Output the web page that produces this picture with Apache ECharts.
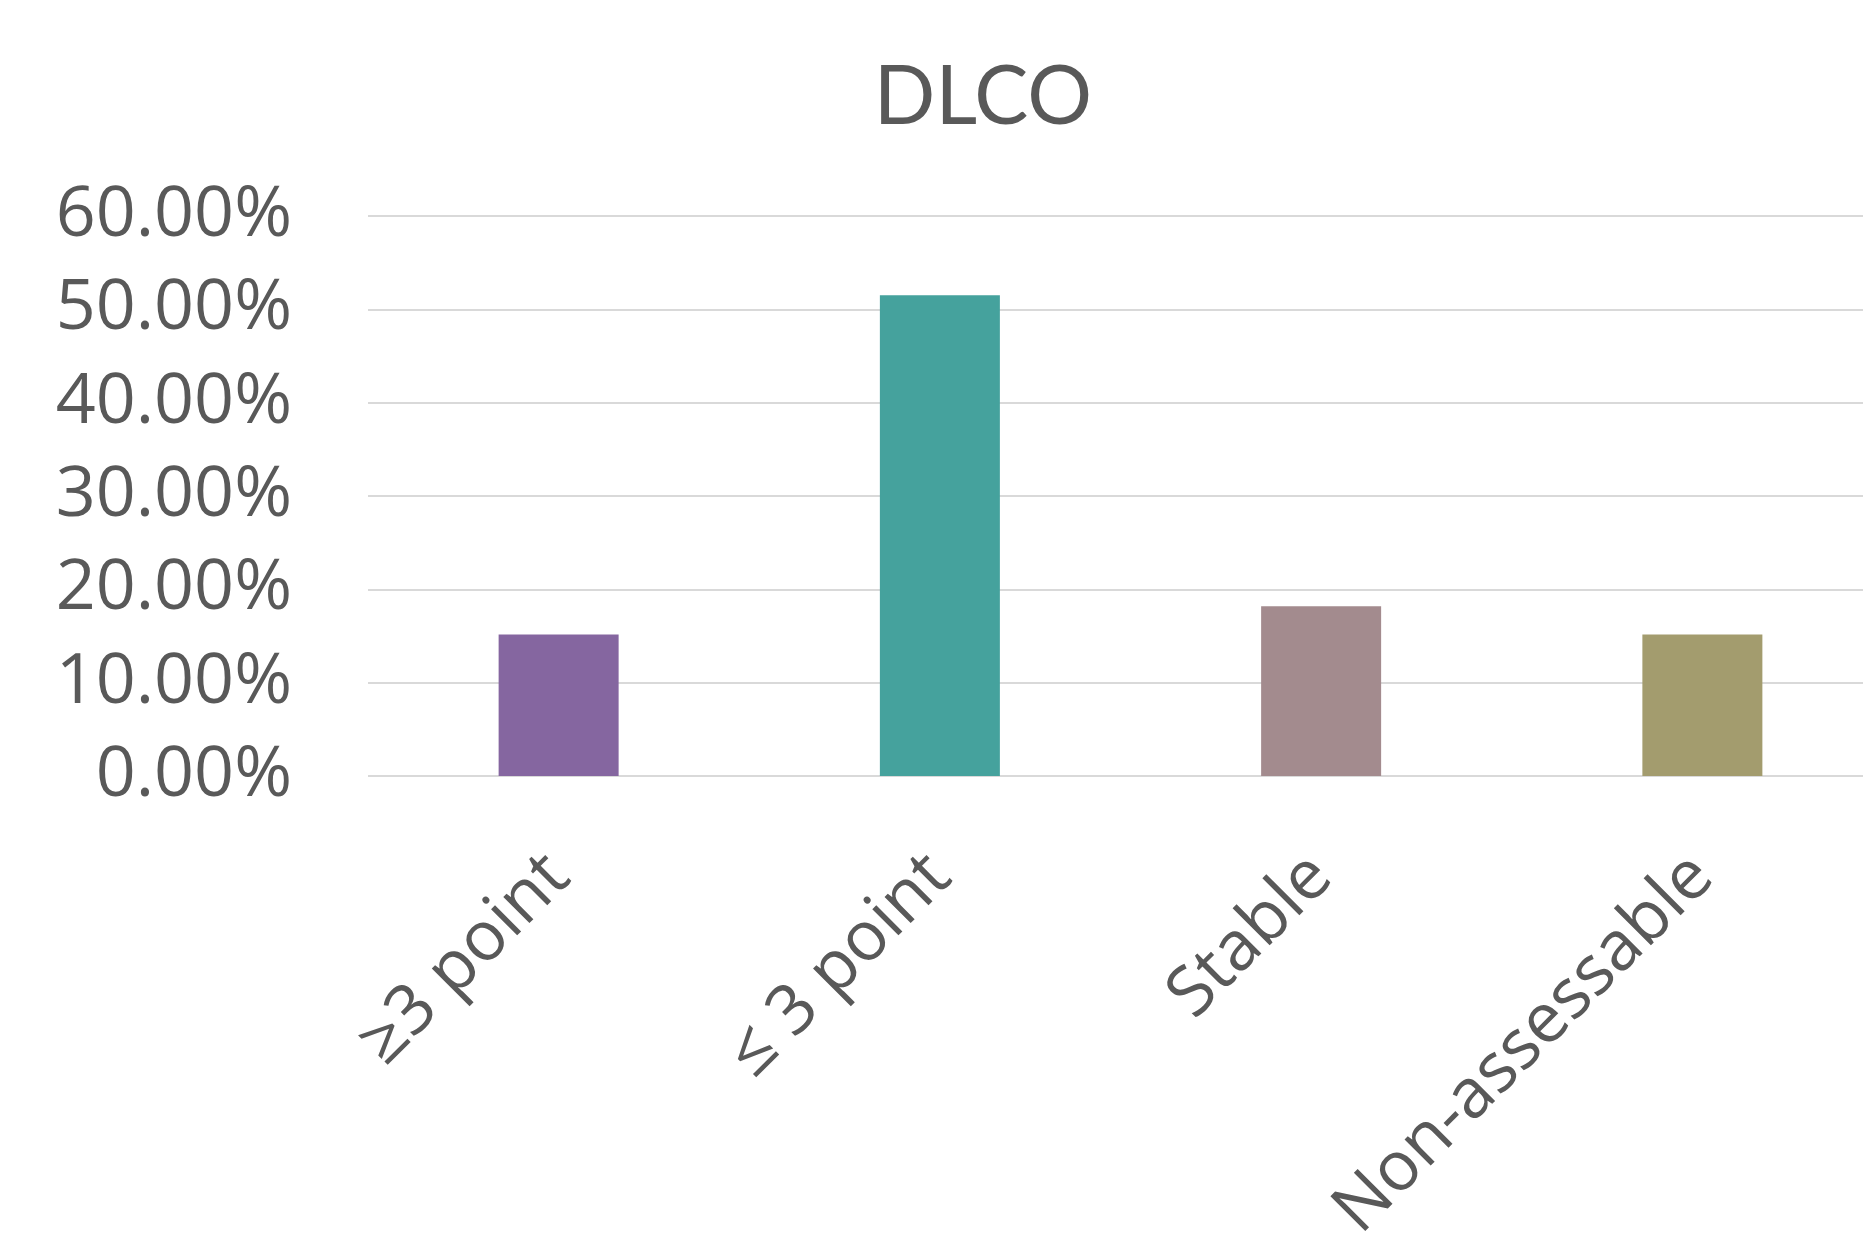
<!DOCTYPE html>
<html><head><meta charset="utf-8">
<script src="https://cdn.jsdelivr.net/npm/echarts@6/dist/echarts.min.js"></script>
<style>html,body{margin:0;padding:0;background:#fff}#c{width:1863px;height:1234px}</style>
</head><body><div id="c"></div>
<script>
const title = 'DLCO';
const categories = ['\u22653 point', '\u2264 3 point', 'Stable', 'Non-assessable'];
const values = [0.1515, 0.5152, 0.1818, 0.1515];
const colors = ['#8566A0', '#45A29D', '#A38B8E', '#A39C6E'];
const yTicks = [0, 0.1, 0.2, 0.3, 0.4, 0.5, 0.6];

const font = '"Open Sans", Lato, sans-serif';
const chart = echarts.init(document.getElementById('c'));
chart.setOption({
  animation: false,
  backgroundColor: '#fff',
  title: {
    text: title, left: 978, top: 52, textAlign: 'center',
    textStyle: {fontFamily: 'Lato, sans-serif', fontSize: 81, fontWeight: 'normal', color: '#595959'}
  },
  grid: {left: 368, top: 216, width: 1525, height: 560, outerBoundsMode: 'none'},
  xAxis: {
    type: 'category', data: categories,
    axisLine: {show: false}, axisTick: {show: false},
    axisLabel: {rotate: 45, margin: 90, fontFamily: font, fontSize: 69, color: '#595959', interval: 0}
  },
  yAxis: {
    type: 'value', min: yTicks[0], max: yTicks[yTicks.length-1], interval: yTicks[1]-yTicks[0],
    axisLine: {show: false}, axisTick: {show: false},
    splitLine: {lineStyle: {color: '#D9D9D9', width: 2}},
    axisLabel: {margin: 76, fontFamily: font, fontSize: 70, color: '#595959',
      formatter: v => (v*100).toFixed(2) + '%'}
  },
  series: [{
    type: 'bar', barWidth: 120,
    data: values.map((v, i) => ({value: v, itemStyle: {color: colors[i]}}))
  }]
});
</script></body></html>
